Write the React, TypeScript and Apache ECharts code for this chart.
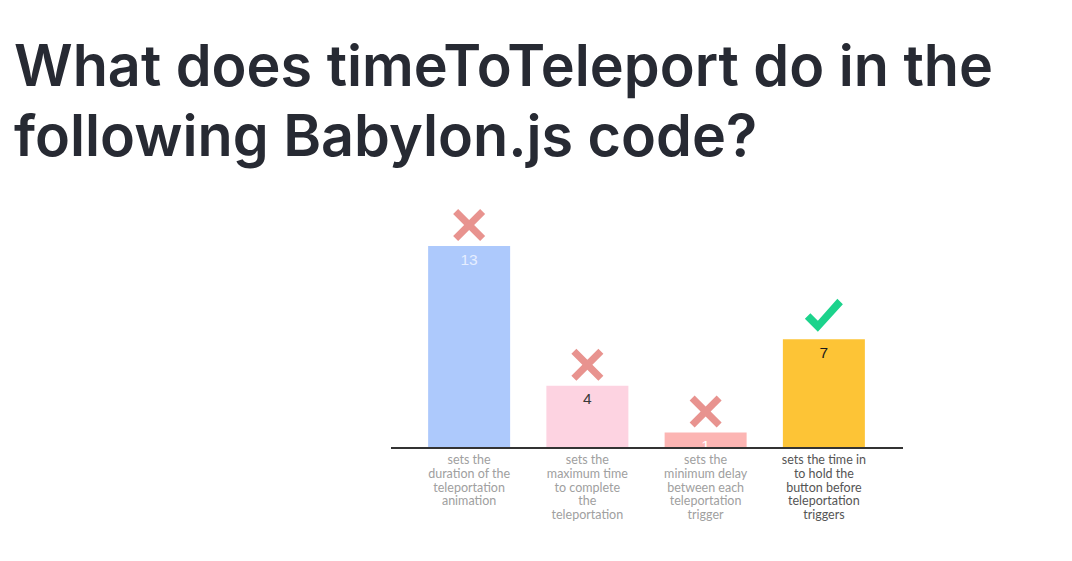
import React, { useEffect, useRef } from "react";
import * as echarts from "echarts";

const titleText = "What does timeToTeleport do in the\nfollowing Babylon.js code?";
const categories = [
  "sets the\nduration of the\nteleportation\nanimation",
  "sets the\nmaximum time\nto complete\nthe\nteleportation",
  "sets the\nminimum delay\nbetween each\nteleportation\ntrigger",
  "sets the time in\nto hold the\nbutton before\nteleportation\ntriggers",
];
const values = [13, 4, 1, 7];
const correct = [false, false, false, true];
const barColors = ["#adc9fc", "#fdd3e1", "#fcb5b3", "#fdc436"];
const labelColors = ["#e6eeff", "#3a3a3a", "#ffffff", "#1a1a1a"];

const CROSS = "path://M5,0 L16,11 L27,0 L32,5 L21,16 L32,27 L27,32 L16,21 L5,32 L0,27 L11,16 L0,5 Z";
const CHECK = "path://M0,20 L5.5,14.5 L13,22 L32.5,0 L38,5.5 L13,33 Z";

export default function App() {
  const ref = useRef<HTMLDivElement>(null);
  useEffect(() => {
    if (!ref.current) return;
    const chart = echarts.init(ref.current, null, { renderer: "svg" });
    chart.setOption({
      animation: false,
      backgroundColor: "#ffffff",
      title: {
        text: titleText,
        left: 14,
        top: 30,
        padding: 0,
        textStyle: {
          fontFamily: "Inter",
          fontWeight: 600,
          fontSize: 57.5,
          lineHeight: 70,
          color: "#272a33",
        },
      },
      grid: { left: 410, right: 189, top: 246, bottom: 113 },
      xAxis: {
        type: "category",
        data: categories,
        axisLine: { show: false },
        axisTick: { show: false },
        axisLabel: {
          interval: 0,
          margin: 5,
          fontFamily: "Lato",
          fontSize: 12.5,
          lineHeight: 13.7,
          color: (_v: any, i: number) => (correct[i] ? "#555555" : "#a0a0a0"),
        },
      },
      yAxis: { type: "value", min: 0, max: 13, show: false, splitLine: { show: false } },
      graphic: [
        {
          type: "line",
          shape: { x1: 391, y1: 448, x2: 903, y2: 448 },
          style: { stroke: "#333333", lineWidth: 2 },
          z: 10,
        },
      ],
      series: [
        {
          type: "bar",
          barWidth: 82,
          data: values.map((v, i) => ({
            value: v,
            itemStyle: { color: barColors[i] },
            label: { color: labelColors[i] },
          })),
          label: {
            show: true,
            position: "insideTop",
            distance: 5,
            fontFamily: "Liberation Sans",
            fontSize: 15.5,
          },
          z: 2,
        },
        {
          type: "scatter",
          symbol: CROSS,
          symbolSize: [32, 32],
          symbolOffset: [0, -21],
          itemStyle: { color: "#e8938f", opacity: 1 },
          data: values.map((v, i) => (correct[i] ? "-" : v)),
          z: 3,
        },
        {
          type: "scatter",
          symbol: CHECK,
          symbolSize: [38, 33],
          symbolOffset: [0, -24],
          itemStyle: { color: "#1cd38c", opacity: 1 },
          data: values.map((v, i) => (correct[i] ? v : "-")),
          z: 3,
        },
      ],
    });
    return () => chart.dispose();
  }, []);
  return (
    <div
      ref={ref}
      style={{ position: "fixed", left: 0, top: 0, width: 1072, height: 561 }}
    />
  );
}
